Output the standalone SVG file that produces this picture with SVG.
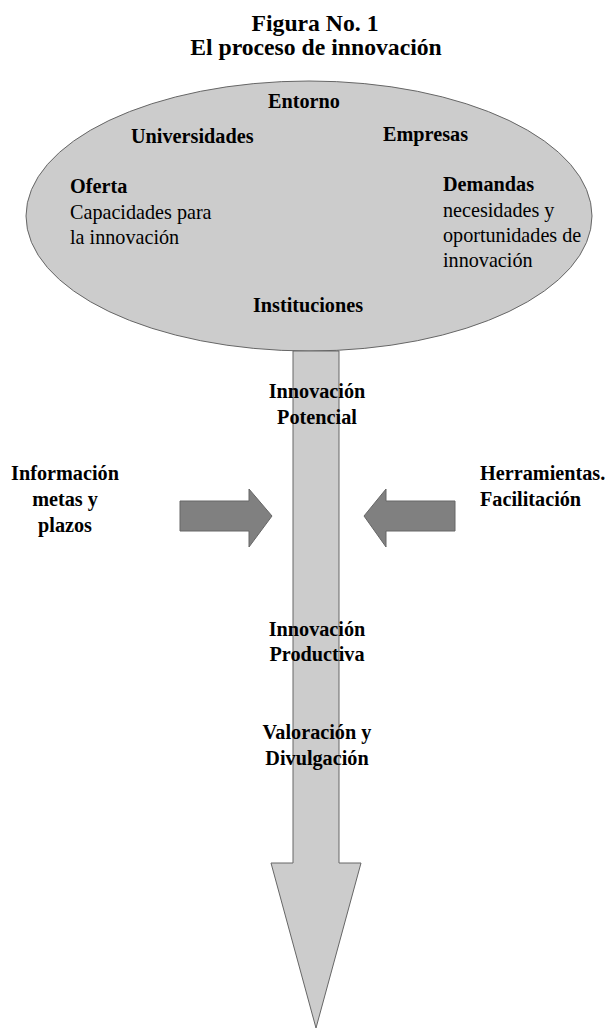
<svg xmlns="http://www.w3.org/2000/svg" width="607" height="1030" viewBox="0 0 607 1030">
<style>
text{font-family:"Liberation Serif","Times New Roman",serif;fill:#000}
.t{font-size:23.7px;font-weight:bold;text-anchor:middle}
.b{font-size:22px;font-weight:bold}
.r{font-size:21px}
.c{text-anchor:middle}
.shape{stroke:#666;stroke-width:1}
</style>
<rect width="607" height="1030" fill="#fff"/>
<g id="title">
<text class="t" x="315" y="31">Figura No. 1</text>
<text class="t" x="316" y="55">El proceso de innovación</text>
</g>
<g id="entorno">
<ellipse class="shape" cx="309" cy="216" rx="283" ry="135" fill="#cccccc"/>
<text class="b c" transform="translate(304,108) scale(0.92,1)">Entorno</text>
<text class="b" transform="translate(131,143) scale(0.92,1)">Universidades</text>
<text class="b" transform="translate(383,141) scale(0.92,1)">Empresas</text>
<text class="b" transform="translate(70,193) scale(0.92,1)">Oferta</text>
<text class="r" transform="translate(70,219) scale(0.96,1)">Capacidades para</text>
<text class="r" transform="translate(70,244) scale(0.96,1)">la innovación</text>
<text class="b" transform="translate(443,191) scale(0.92,1)">Demandas</text>
<text class="r" transform="translate(443,217) scale(0.96,1)">necesidades y</text>
<text class="r" transform="translate(443,242) scale(0.96,1)">oportunidades de</text>
<text class="r" transform="translate(443,267) scale(0.96,1)">innovación</text>
<text class="b c" transform="translate(308,312) scale(0.92,1)">Instituciones</text>
</g>
<g id="connectors">
<polygon id="main-arrow" class="shape" fill="#cccccc" points="293,351 339,351 339,863 361,863 316,1028 271,863 293,863"/>
<polygon id="arrow-left" class="shape" fill="#808080" points="180,501 249,501 249,489 272,516 249,547 249,531 180,531"/>
<polygon id="arrow-right" class="shape" fill="#808080" points="455,501 386,501 386,489 364,516 386,547 386,531 455,531"/>
</g>
<g id="potencial">
<text class="b c" transform="translate(317,398) scale(0.92,1)">Innovación</text>
<text class="b c" transform="translate(317,424) scale(0.92,1)">Potencial</text>
</g>
<g id="informacion">
<text class="b c" transform="translate(65,480) scale(0.92,1)">Información</text>
<text class="b c" transform="translate(65,506) scale(0.92,1)">metas y</text>
<text class="b c" transform="translate(65,532) scale(0.92,1)">plazos</text>
</g>
<g id="herramientas">
<text class="b" transform="translate(480,480) scale(0.92,1)">Herramientas.</text>
<text class="b" transform="translate(480,506) scale(0.92,1)">Facilitación</text>
</g>
<g id="productiva">
<text class="b c" transform="translate(317,636) scale(0.92,1)">Innovación</text>
<text class="b c" transform="translate(317,661) scale(0.92,1)">Productiva</text>
</g>
<g id="valoracion">
<text class="b c" transform="translate(317,739) scale(0.92,1)">Valoración y</text>
<text class="b c" transform="translate(317,765) scale(0.92,1)">Divulgación</text>
</g>
</svg>
